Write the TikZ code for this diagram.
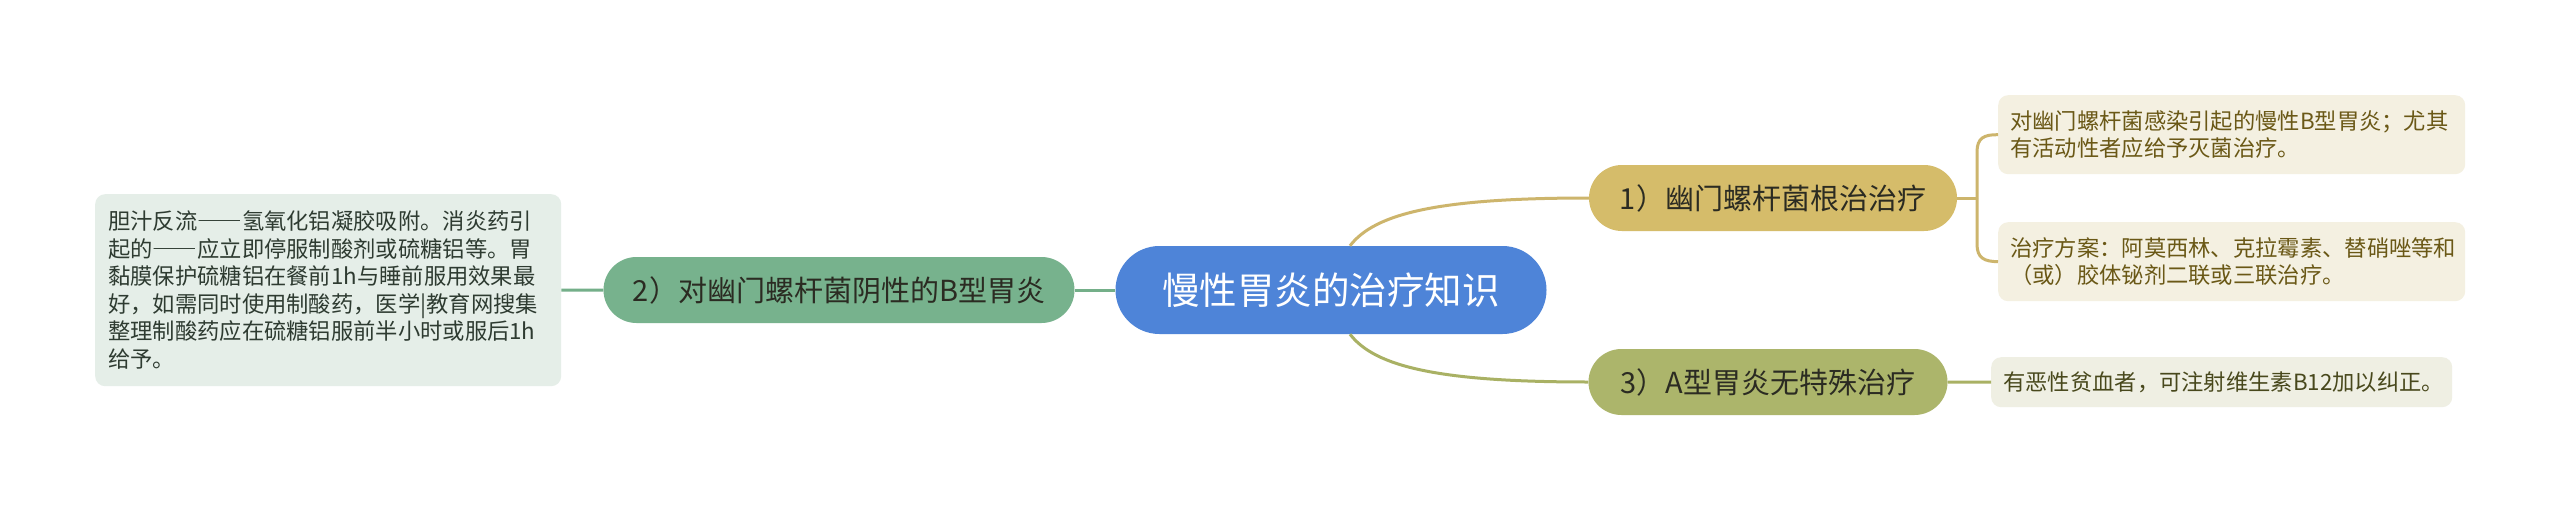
\documentclass[tikz,border=0pt]{standalone}
\usepackage{fontspec}
\setmainfont{Noto Sans CJK SC}
\newcommand{\fwdash}{{\addfontfeature{RawFeature=+fwid}——}}
\definecolor{cblue}{HTML}{4E84D8}
\definecolor{cgreen}{HTML}{77B28D}
\definecolor{cgreenline}{HTML}{74AF89}
\definecolor{cgreenbox}{HTML}{E5EEE8}
\definecolor{cgreentext}{HTML}{2E3B31}
\definecolor{cgold}{HTML}{D5BC6A}
\definecolor{cgoldline}{HTML}{CDB56C}
\definecolor{cgoldbox}{HTML}{F4F0E1}
\definecolor{cgoldtext}{HTML}{6A5816}
\definecolor{colive}{HTML}{ACB56B}
\definecolor{coliveline}{HTML}{A9B164}
\definecolor{colivebox}{HTML}{EFEFE3}
\definecolor{colivetext}{HTML}{48481C}
\definecolor{cdark}{HTML}{2B2B22}
\begin{document}
\begin{tikzpicture}[x=1pt,y=-1pt,
  centralnode/.style={fill=cblue, rounded corners=44pt, minimum width=431pt, minimum height=88pt, inner sep=0pt, text=white, font=\fontsize{37.5}{42}\selectfont},
  topicnode/.style={rounded corners=33pt, minimum height=66pt, inner sep=0pt, text=cdark, font=\fontsize{29}{34}\selectfont},
  subbox/.style={anchor=north west, rounded corners=10pt, inner xsep=12pt, inner ysep=0pt, align=left, font=\fontsize{22.3}{27.5}\selectfont},
  conn/.style={line width=3pt}
]
\useasboundingbox (0,0) rectangle (2560,511);
\fill[white] (0,0) rectangle (2560,511);

% nodes
\node[centralnode] (central) at (1331,290) {慢性胃炎的治疗知识};
\node[topicnode, fill=cgreen, minimum width=471pt] (t2) at (839,290) {2）对幽门螺杆菌阴性的B型胃炎};
\node[topicnode, fill=cgold, minimum width=368pt] (t1) at (1773,198) {1）幽门螺杆菌根治治疗};
\node[topicnode, fill=colive, minimum width=359pt] (t3) at (1768,382) {3）A型胃炎无特殊治疗};

\node[subbox, fill=cgreenbox, text=cgreentext, inner xsep=13pt, text width=440pt, minimum height=192pt] (b2) at (95,194)
 {胆汁反流\fwdash 氢氧化铝凝胶吸附。消炎药引\\起的\fwdash 应立即停服制酸剂或硫糖铝等。胃\\黏膜保护硫糖铝在餐前1h与睡前服用效果最\\好，如需同时使用制酸药，医学|教育网搜集\\整理制酸药应在硫糖铝服前半小时或服后1h\\给予。};
\node[subbox, fill=cgoldbox, text=cgoldtext, text width=443pt, minimum height=79pt] (b1a) at (1998,95)
 {对幽门螺杆菌感染引起的慢性B型胃炎；尤其\\有活动性者应给予灭菌治疗。};
\node[subbox, fill=cgoldbox, text=cgoldtext, text width=443pt, minimum height=79pt] (b1b) at (1998,222)
 {治疗方案：阿莫西林、克拉霉素、替硝唑等和\\（或）胶体铋剂二联或三联治疗。};
\node[subbox, fill=colivebox, text=colivetext, text width=437pt, minimum height=50pt] (b3) at (1991,357)
 {有恶性贫血者，可注射维生素B12加以纠正。};

\coordinate (j1) at (1977,198);

% connectors
\draw[conn, cgreenline] (central.west) -- (t2.east);
\draw[conn, cgreenline] (t2.west) -- (b2.east);
\draw[conn, cgoldline] ([xshift=19pt]central.north) .. controls (1375,213) and (1440,198) .. (t1.west);
\draw[conn, coliveline] ([xshift=19pt]central.south) .. controls (1375,367) and (1440,382) .. (t3.west);
\draw[conn, cgoldline] (t1.east) -- (j1);
\draw[conn, cgoldline] (j1) -- (1977,152) .. controls (1977,138) and (1984,134.5) .. (b1a.west);
\draw[conn, cgoldline] (j1) -- (1977,244) .. controls (1977,258) and (1984,261.5) .. (b1b.west);
\draw[conn, coliveline] (t3.east) -- (b3.west);
\end{tikzpicture}
\end{document}
